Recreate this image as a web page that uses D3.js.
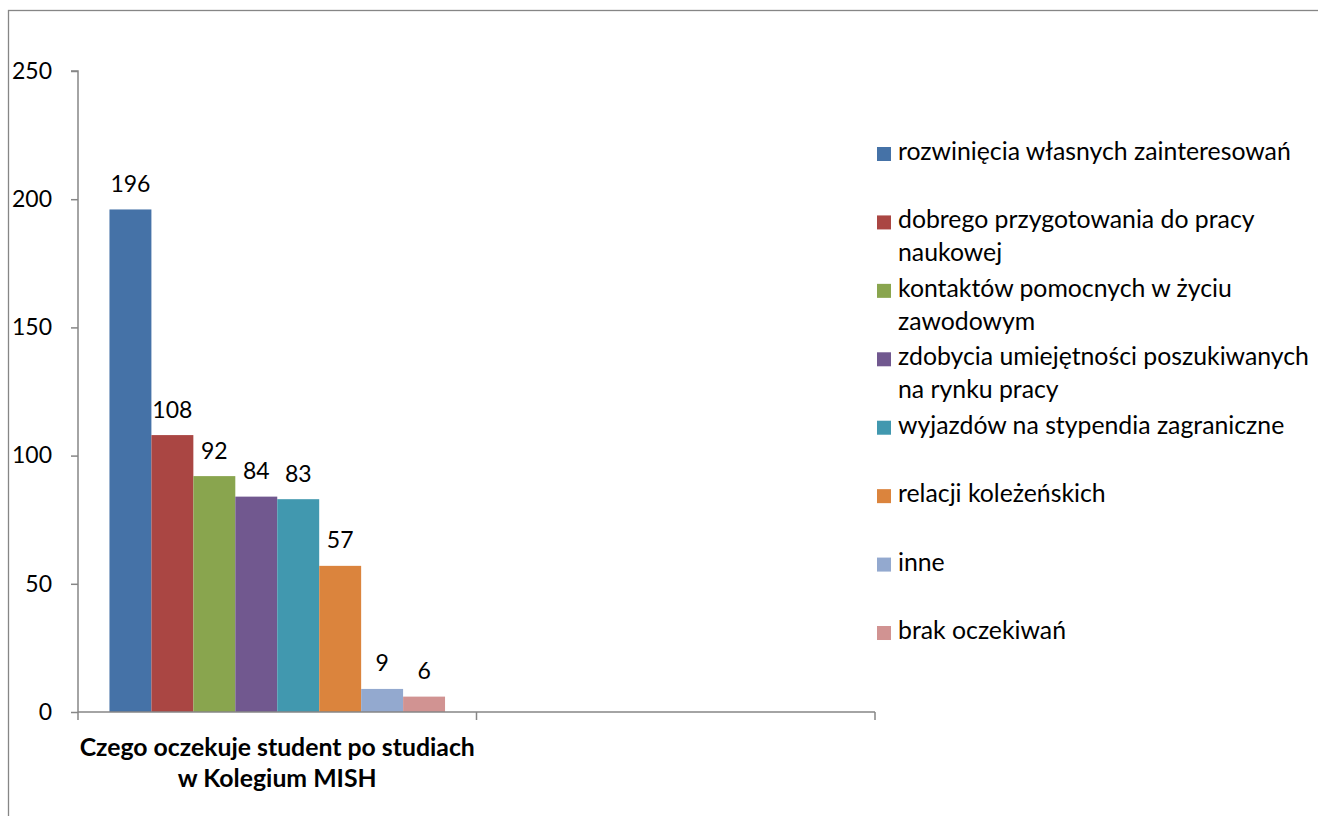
<!DOCTYPE html>
<html>
<head>
<meta charset="utf-8">
<script src="https://cdn.jsdelivr.net/npm/d3@7"></script>
<style>
  html, body { margin: 0; padding: 0; background: #fff; }
  svg { display: block; font-family: Lato, "Liberation Sans", sans-serif; }
</style>
</head>
<body>
<svg id="chart" width="1318" height="816"></svg>
<script>
// ---- data ----
const categories = ["Czego oczekuje student po studiach\nw Kolegium MISH", ""];
const seriesNames = [
  "rozwinięcia własnych zainteresowań",
  "dobrego przygotowania do pracy\nnaukowej",
  "kontaktów pomocnych w życiu\nzawodowym",
  "zdobycia umiejętności poszukiwanych\nna rynku pracy",
  "wyjazdów na stypendia zagraniczne",
  "relacji koleżeńskich",
  "inne",
  "brak oczekiwań"
];
const seriesValues = [196, 108, 92, 84, 83, 57, 9, 6];
const seriesColors = ["#4572A7", "#AA4643", "#89A54E", "#71588F", "#4198AF", "#DB843D", "#93A9CF", "#D19392"];
const yTicks = [0, 50, 100, 150, 200, 250];

// ---- layout ----
const svg = d3.select("#chart");
const plot = { left: 78, right: 875, top: 71, bottom: 712 };
const axisColor = "#868686";
const fsNum = 23;   // numbers
const fsText = 24.8; // words

// outer border
svg.append("rect")
  .attr("x", 8.5).attr("y", 10.5)
  .attr("width", 1400).attr("height", 900)
  .attr("fill", "none").attr("stroke", axisColor).attr("stroke-width", 1.3);

const x0 = d3.scaleBand().domain(d3.range(categories.length)).range([plot.left, plot.right]).padding(0);
const x1 = d3.scaleBand().domain(d3.range(seriesValues.length)).range([0, x0.bandwidth()])
  .paddingInner(0).paddingOuter(0.75);
const y = d3.scaleLinear().domain([0, 250]).range([plot.bottom, plot.top]);

// bars (only first category carries data)
const g = svg.append("g");
g.selectAll("rect.bar").data(seriesValues).join("rect")
  .attr("class", "bar")
  .attr("x", (d, i) => x0(0) + x1(i))
  .attr("width", x1.bandwidth())
  .attr("y", d => y(d))
  .attr("height", d => y(0) - y(d))
  .attr("fill", (d, i) => seriesColors[i]);

// data labels
g.selectAll("text.lbl").data(seriesValues).join("text")
  .attr("class", "lbl")
  .attr("x", (d, i) => x0(0) + x1(i) + x1.bandwidth() / 2)
  .attr("y", d => y(d) - 17.5)
  .attr("text-anchor", "middle")
  .attr("font-size", fsNum)
  .attr("fill", "#000")
  .text(d => d);

// y axis
const yAxis = svg.append("g").attr("transform", `translate(${plot.left},0)`)
  .call(d3.axisLeft(y).tickValues(yTicks).tickSize(7).tickPadding(19).tickFormat(d3.format("d")));
yAxis.select(".domain").attr("stroke", axisColor).attr("stroke-width", 1.5).attr("d", `M-7,${plot.top}H0V${plot.bottom}`);
yAxis.selectAll(".tick line").attr("stroke", axisColor).attr("stroke-width", 1.5);
yAxis.selectAll(".tick text").attr("font-size", fsNum).attr("font-family", "Lato, sans-serif").attr("fill", "#000");

// x axis (boundary ticks)
const xa = svg.append("g");
xa.append("line").attr("x1", plot.left).attr("x2", plot.right).attr("y1", y(0)).attr("y2", y(0))
  .attr("stroke", axisColor).attr("stroke-width", 1.5);
const bounds = categories.map((c, i) => x0(i)).concat([x0(categories.length - 1) + x0.bandwidth()]);
xa.selectAll("line.tk").data(bounds).join("line").attr("class", "tk")
  .attr("x1", d => d).attr("x2", d => d).attr("y1", y(0)).attr("y2", y(0) + 8)
  .attr("stroke", axisColor).attr("stroke-width", 1.5);
categories.forEach((c, i) => {
  const lines = c.split("\n");
  const t = xa.append("text")
    .attr("x", x0(i) + x0.bandwidth() / 2)
    .attr("y", 756)
    .attr("text-anchor", "middle")
    .attr("font-size", fsText).attr("font-weight", "bold").attr("fill", "#000");
  lines.forEach((ln, k) => {
    t.append("tspan").attr("x", x0(i) + x0.bandwidth() / 2).attr("dy", k === 0 ? 0 : 30.5).text(ln);
  });
});

// legend
const legX = 877, legY0 = 160, legStep = 68.43, lineH = 32.7;
const leg = svg.append("g");
seriesNames.forEach((name, i) => {
  const by = legY0 + i * legStep;
  leg.append("rect").attr("x", legX).attr("y", by - 13).attr("width", 14).attr("height", 14)
    .attr("fill", seriesColors[i]);
  const t = leg.append("text").attr("x", legX + 21).attr("y", by)
    .attr("font-size", fsText).attr("fill", "#000");
  name.split("\n").forEach((ln, k) => {
    t.append("tspan").attr("x", legX + 21).attr("dy", k === 0 ? 0 : lineH).text(ln);
  });
});
</script>
</body>
</html>
